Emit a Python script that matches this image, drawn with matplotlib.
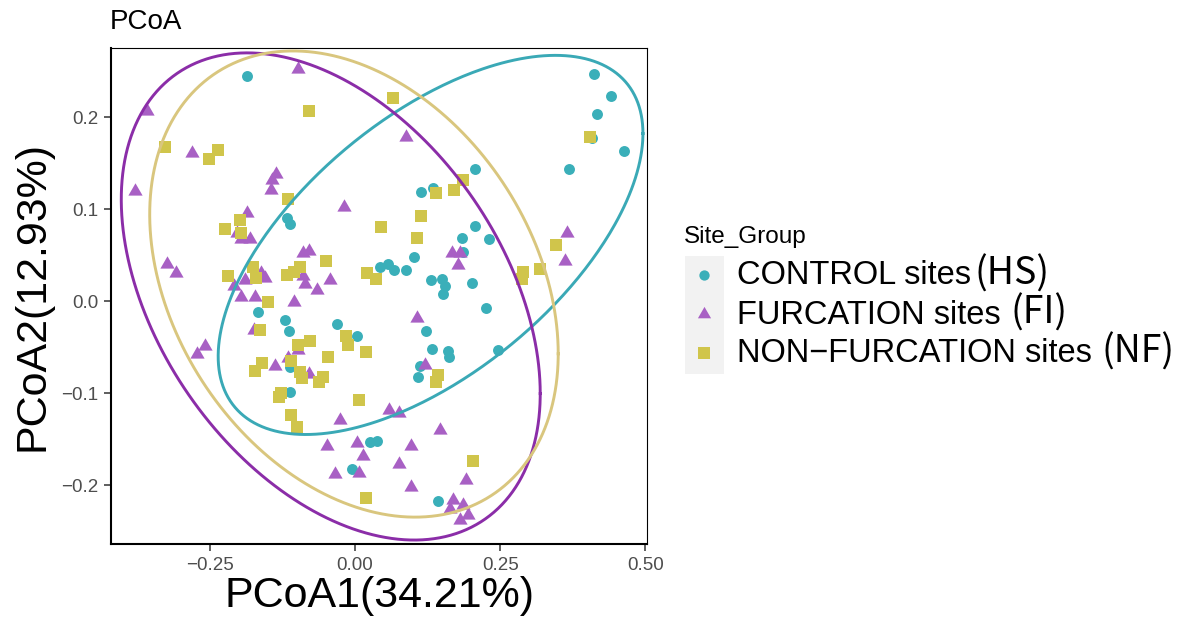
import numpy as np
import matplotlib
matplotlib.use("Agg")
import matplotlib.pyplot as plt
from matplotlib.patches import Rectangle

plt.rcParams['font.family'] = ['Liberation Sans', 'DejaVu Sans']

# group names and colours
groups = ["CONTROL sites", "FURCATION sites", "NON\u2212FURCATION sites"]
suffixes = ["(HS)", "(FI)", "(NF)"]
point_colors = ["#3AAFB9", "#A860C4", "#D0C54B"]
ellipse_colors = ["#3AA9B6", "#8B2DA8", "#D9C67E"]

# control sites (HS)
hs_x = [-0.187, -0.117, -0.113, 0.206, 0.113, 0.134, 0.185, 0.207, 0.102, 0.186,
        0.043, 0.056, 0.067, 0.088, 0.130, 0.149, 0.155, 0.152, 0.201, 0.411,
        0.441, 0.416, 0.408, 0.464, 0.368, 0.231, 0.225, 0.247, -0.168, -0.121,
        -0.114, -0.113, -0.113, -0.032, 0.003, 0.122, 0.133, 0.160, 0.161, 0.112,
        0.108, 0.026, 0.037, -0.006, 0.143]
hs_y = [0.245, 0.090, 0.084, 0.143, 0.118, 0.1225, 0.069, 0.082, 0.048, 0.053,
        0.037, 0.040, 0.034, 0.034, 0.023, 0.024, 0.016, 0.008, 0.020, 0.247,
        0.223, 0.203, 0.1775, 0.163, 0.1435, 0.067, -0.007, -0.053, -0.012, -0.021,
        -0.033, -0.072, -0.099, -0.025, -0.038, -0.032, -0.052, -0.054, -0.061, -0.071,
        -0.082, -0.153, -0.152, -0.182, -0.217]

# furcation sites (FI)
fi_x = [-0.098, -0.359, -0.281, -0.379, -0.136, -0.143, -0.145, -0.186, -0.203, -0.197,
        -0.182, -0.324, -0.308, -0.162, -0.156, -0.190, -0.209, -0.197, -0.172, 0.088,
        -0.020, 0.167, 0.181, 0.177, -0.090, -0.080, -0.089, -0.086, -0.065, -0.043,
        -0.106, 0.365, 0.362, -0.175, -0.258, -0.272, -0.138, -0.116, -0.098, -0.079,
        -0.026, 0.059, 0.075, 0.106, 0.121, 0.147, -0.049, 0.004, 0.013, 0.097,
        0.006, -0.035, 0.075, 0.097, 0.191, 0.168, 0.186, 0.164, 0.195, 0.180]
fi_y = [0.252, 0.207, 0.161, 0.120, 0.138, 0.132, 0.121, 0.096, 0.074, 0.067,
        0.067, 0.040, 0.030, 0.030, 0.025, 0.023, 0.016, 0.004, 0.004, 0.178,
        0.1025, 0.052, 0.052, 0.039, 0.052, 0.054, 0.027, 0.018, 0.012, 0.023,
        -0.001, 0.0736, 0.0438, -0.031, -0.049, -0.058, -0.071, -0.062, -0.053, -0.079,
        -0.129, -0.1185, -0.122, -0.018, -0.070, -0.140, -0.158, -0.154, -0.168, -0.158,
        -0.187, -0.188, -0.1775, -0.202, -0.194, -0.216, -0.222, -0.2255, -0.2326, -0.238]

# non-furcation sites (NF)
nf_x = [-0.328, -0.236, -0.251, -0.116, -0.199, -0.224, -0.197, -0.219, -0.176, -0.171,
        -0.151, -0.117, 0.066, -0.079, 0.139, 0.170, 0.186, 0.114, 0.045, 0.106,
        0.020, 0.036, -0.050, -0.095, -0.106, 0.404, 0.347, 0.289, 0.287, 0.319,
        0.204, -0.164, -0.160, -0.173, -0.132, -0.127, -0.110, -0.016, -0.013, -0.078,
        -0.098, -0.046, 0.019, -0.095, -0.092, -0.056, -0.063, 0.006, -0.100, 0.142,
        0.139, 0.019, -0.110]
nf_y = [0.167, 0.164, 0.154, 0.111, 0.088, 0.078, 0.0735, 0.027, 0.037, 0.025,
        -0.001, 0.028, 0.221, 0.206, 0.117, 0.121, 0.1315, 0.092, 0.080, 0.069,
        0.030, 0.024, 0.0435, 0.037, 0.032, 0.1786, 0.061, 0.032, 0.024, 0.0345,
        -0.174, -0.031, -0.067, -0.076, -0.104, -0.100, -0.124, -0.038, -0.048, -0.043,
        -0.048, -0.0605, -0.055, -0.077, -0.084, -0.082, -0.088, -0.1076, -0.137, -0.080,
        -0.0877, -0.214, -0.065]

# 95% ellipses: centre, x/y half extents, phase between x and y (degrees)
ell_cx = [0.130, -0.042, -0.002]
ell_cy = [0.061, 0.005, 0.0185]
ell_rx = [0.366, 0.361, 0.352]
ell_ry = [0.206, 0.2647, 0.2533]
ell_phase = [54.0, 113.5, 107.4]

xticks = [-0.25, 0.0, 0.25, 0.5]
xticklabels = ["\u22120.25", "0.00", "0.25", "0.50"]
yticks = [-0.2, -0.1, 0.0, 0.1, 0.2]
yticklabels = ["\u22120.2", "\u22120.1", "0.0", "0.1", "0.2"]

W, H = 1195, 622
fig = plt.figure(figsize=(W / 100, H / 100), dpi=100)
ax = fig.add_axes([111 / W, (H - 544) / H, (647 - 111) / W, (544 - 48) / H])

tri = [(-0.866, -0.5), (0.866, -0.5), (0.0, 1.0)]
ax.scatter(hs_x, hs_y, s=62, marker='o', color=point_colors[0], linewidths=0, zorder=3)
ax.scatter(fi_x, fi_y, s=140, marker=tri, color=point_colors[1], linewidths=0, zorder=3)
ax.scatter(nf_x, nf_y, s=78, marker='s', color=point_colors[2], linewidths=0, zorder=3)

t = np.linspace(0, 2 * np.pi, 400)
for i in range(3):
    ex = ell_cx[i] + ell_rx[i] * np.cos(t)
    ey = ell_cy[i] + ell_ry[i] * np.cos(t - np.radians(ell_phase[i]))
    ax.plot(ex, ey, color=ellipse_colors[i], lw=2.1, zorder=4)

ax.set_xlim(-0.4207, 0.503)
ax.set_ylim(-0.264, 0.275)
ax.set_xticks(xticks)
ax.set_xticklabels(xticklabels)
ax.set_yticks(yticks)
ax.set_yticklabels(yticklabels)
ax.tick_params(length=5, width=1.1, color='#333333', labelcolor='#4D4D4D',
               labelsize=13.5, pad=4)
for side in ['left', 'bottom']:
    ax.spines[side].set_linewidth(1.5)
for side in ['top', 'right']:
    ax.spines[side].set_linewidth(0.8)

ax.set_xlabel("PCoA1(34.21%)", fontsize=31, labelpad=2)
ax.set_ylabel("PCoA2(12.93%)", fontsize=31, labelpad=6)
fig.text(110 / W, 1 - 29 / H, "PCoA", fontsize=20, ha='left', va='baseline')

# legend
lg = fig.add_axes([0, 0, 1, 1], facecolor='none')
lg.set_xlim(0, W)
lg.set_ylim(H, 0)
lg.axis('off')
lg.text(684, 237, "Site_Group", fontsize=17.5, ha='left', va='center')
lg.add_patch(Rectangle((685, 256), 39, 118, facecolor='#F2F2F2', edgecolor='none'))
row_y = [275, 314, 353]
markers = ['o', tri, 's']
sizes = [55, 120, 70]
fig.canvas.draw()
rend = fig.canvas.get_renderer()
for i in range(3):
    lg.scatter([704.5], [row_y[i]], s=sizes[i], marker=markers[i],
               color=point_colors[i], linewidths=0)
    txt = lg.text(737, row_y[i] + 1, groups[i], fontsize=23.5, ha='left', va='center')
    bb = txt.get_window_extent(renderer=rend)
    gap = 4 if i == 0 else 10
    lg.text(bb.x1 + gap, row_y[i] - 1, suffixes[i], fontsize=27, ha='left', va='center',
            family=['Noto Sans CJK SC', 'DejaVu Sans'])

fig.savefig("out.png", dpi=100)
